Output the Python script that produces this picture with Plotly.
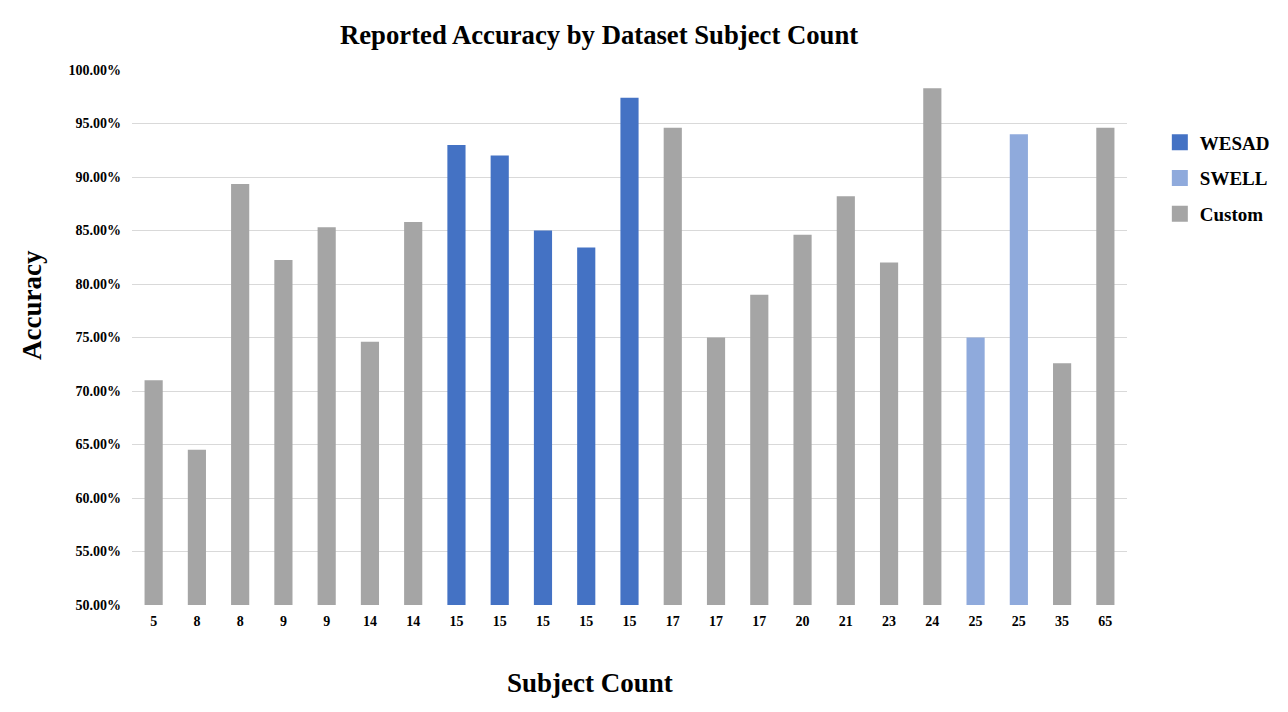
import plotly.graph_objects as go

subject_counts = ["5", "8", "8", "9", "9", "14", "14", "15", "15", "15", "15", "15",
                  "17", "17", "17", "20", "21", "23", "24", "25", "25", "35", "65"]
accuracy = [71.0, 64.5, 89.35, 82.25, 85.3, 74.6, 85.8, 93.0, 92.0, 85.0, 83.4, 97.4,
            94.6, 75.0, 79.0, 84.6, 88.2, 82.0, 98.3, 75.0, 94.0, 72.6, 94.6]
dataset = ["Custom", "Custom", "Custom", "Custom", "Custom", "Custom", "Custom",
           "WESAD", "WESAD", "WESAD", "WESAD", "WESAD",
           "Custom", "Custom", "Custom", "Custom", "Custom", "Custom", "Custom",
           "SWELL", "SWELL", "Custom", "Custom"]
series_names = ["WESAD", "SWELL", "Custom"]
colors = {"WESAD": "#4472C4", "SWELL": "#8FAADC", "Custom": "#A5A5A5"}

FONT = "Liberation Serif"
positions = list(range(len(subject_counts)))

fig = go.Figure()
for i, name in enumerate(series_names):
    xs = [p for p, d in zip(positions, dataset) if d == name]
    ys = [a for a, d in zip(accuracy, dataset) if d == name]
    fig.add_trace(go.Bar(
        x=xs, y=ys, name=name, width=0.42,
        marker=dict(color=colors[name], line=dict(width=0)),
        showlegend=False,
    ))
    # legend entry with a larger square swatch
    fig.add_trace(go.Scatter(
        x=[None], y=[None], mode="markers", name=name,
        marker=dict(symbol="square", size=17, color=colors[name]),
        legendgroup=name, legendrank=i + 1, showlegend=True,
    ))

fig.update_layout(
    width=1280, height=704,
    plot_bgcolor="white", paper_bgcolor="white",
    barmode="overlay",
    margin=dict(l=124, r=161, t=62, b=107),
    font=dict(family=FONT, color="black"),
    showlegend=True,
    legend=dict(x=1.033, xanchor="left", y=0.9, yanchor="top",
                font=dict(family=FONT, size=19, color="black", weight="bold"),
                traceorder="grouped", tracegroupgap=8,
                itemsizing="trace",
                bgcolor="rgba(0,0,0,0)"),
    annotations=[
        dict(text="Reported Accuracy by Dataset Subject Count",
             xref="paper", yref="paper", x=(591 - 124) / 995, y=(597 - 27) / 535,
             xanchor="center", yanchor="middle", showarrow=False,
             font=dict(family=FONT, size=26.7, color="black", weight="bold")),
        dict(text="Subject Count",
             xref="paper", yref="paper", x=(582 - 124) / 995, y=(597 - 675) / 535,
             xanchor="center", yanchor="middle", showarrow=False,
             font=dict(family=FONT, size=27, color="black", weight="bold")),
        dict(text="Accuracy", textangle=-90,
             xref="paper", yref="paper", x=(24 - 124) / 995, y=(597 - 297) / 535,
             xanchor="center", yanchor="middle", showarrow=False,
             font=dict(family=FONT, size=27, color="black", weight="bold")),
    ],
)

fig.update_xaxes(
    tickmode="array", tickvals=positions, ticktext=subject_counts,
    range=[-0.5, len(positions) - 0.5],
    showgrid=False, showline=False, zeroline=False, ticks="",
    ticklabelstandoff=6,
    tickfont=dict(family=FONT, size=14, color="black", weight="bold"),
)
fig.update_yaxes(
    range=[50, 100], dtick=5, tickformat=".2f", ticksuffix="%",
    showgrid=True, gridcolor="#D9D9D9", gridwidth=1,
    showline=False, zeroline=False, ticks="",
    ticklabelstandoff=10,
    tickfont=dict(family=FONT, size=14, color="black", weight="bold"),
)

fig.write_html("out.html")
